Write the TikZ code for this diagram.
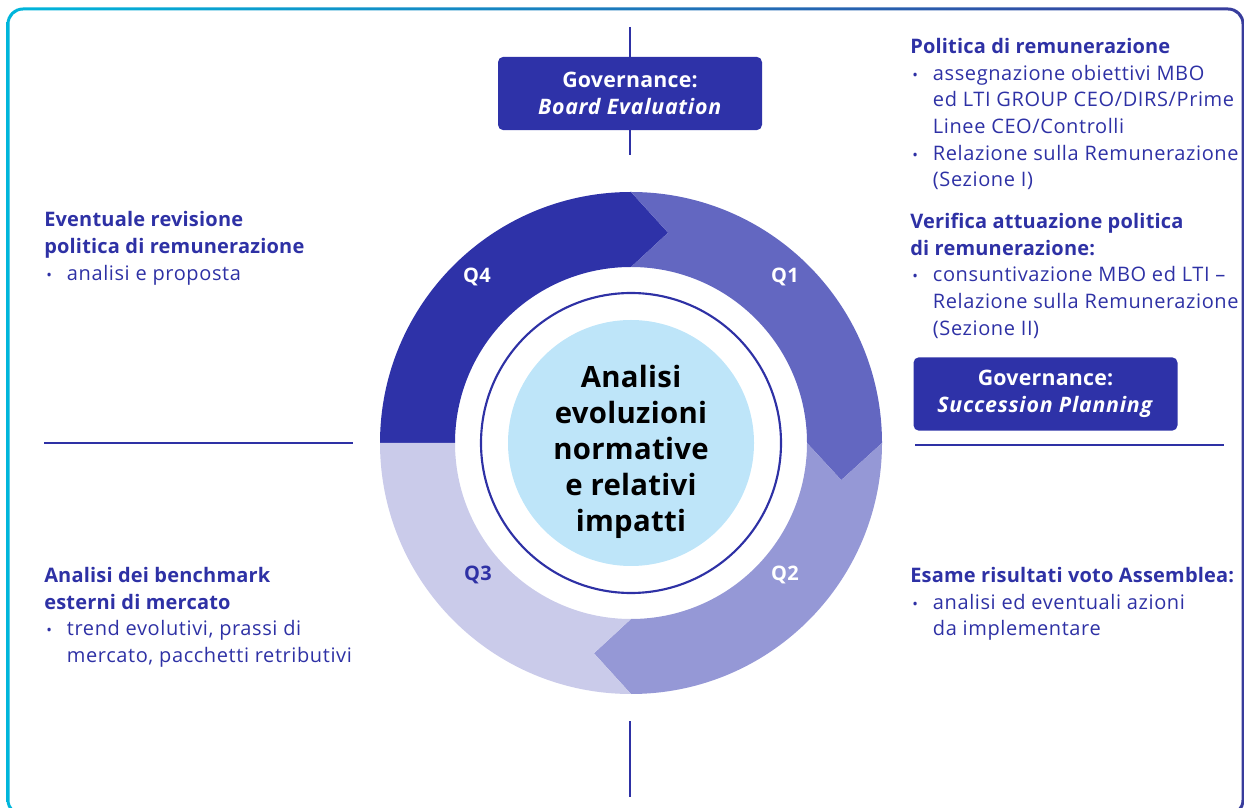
\documentclass[tikz,border=0pt]{standalone}
\usepackage{fontspec}
\setmainfont{Open Sans}[LetterSpace=3, BoldFeatures={LetterSpace=1}, BoldItalicFeatures={LetterSpace=3.5}]
\definecolor{qfour}{HTML}{2E32A8}
\definecolor{qone}{HTML}{6367C1}
\definecolor{qtwo}{HTML}{9598D6}
\definecolor{qthree}{HTML}{CACBEA}
\definecolor{core}{HTML}{BEE5F9}
\definecolor{ink}{HTML}{2E31A5}
\definecolor{framecyan}{HTML}{00B6DB}
\definecolor{frameblue}{HTML}{383C9C}
\newcommand{\blt}{\makebox[17pt][l]{\hspace{1.5pt}\scalebox{0.75}{\textbullet}}}
\newcommand{\ind}{\hspace*{17pt}}
\begin{document}
\begin{tikzpicture}[x=0.75pt, y=0.75pt,
  txt/.style={anchor=north west, inner sep=0, align=left, text=ink, font=\fontsize{15}{20}\selectfont},
  gov/.style={rectangle, rounded corners=4pt, fill=qfour, text=white, align=center, inner sep=0, minimum width=198pt, minimum height=55pt, font=\fontsize{16}{20}\selectfont\bfseries},
  qlab/.style={inner sep=0, font=\fontsize{15}{18}\selectfont\bfseries},
  rule/.style={draw=ink, line width=2pt}]
\useasboundingbox (0,0) rectangle (1245,807);
\shade[left color=framecyan, right color=frameblue, even odd rule]
  [rounded corners=12.4pt] (6.5,-9.5) rectangle (1244.5,799.5)
  [rounded corners=10.1pt] (9.5,-6.5) rectangle (1241.5,796.5);

\begin{scope}[shift={(631,364)}]
\fill[qfour] (180:251) arc[start angle=180, end angle=90, radius=251] -- (80:213.5) -- (90:176) arc[start angle=90, end angle=180, radius=176] -- cycle;
\fill[qone] (90:251) arc[start angle=90, end angle=0, radius=251] -- (-10:213.5) -- (0:176) arc[start angle=0, end angle=90, radius=176] -- (80:213.5) -- cycle;
\fill[qtwo] (0:251) arc[start angle=0, end angle=-90, radius=251] -- (-100:213.5) -- (-90:176) arc[start angle=-90, end angle=0, radius=176] -- (-10:213.5) -- cycle;
\fill[qthree] (-90:251) arc[start angle=-90, end angle=-180, radius=251] -- (180:176) arc[start angle=180, end angle=270, radius=176] -- (-100:213.5) -- cycle;
\node[qlab, text=white] (q4) at (-154,166){Q4};
\node[qlab, text=white] (q1) at (154,166){Q1};
\node[qlab, text=white] (q2) at (154,-132){Q2};
\node[qlab, text=ink] (q3) at (-153,-132){Q3};
\end{scope}

\node[circle, draw=ink, line width=1.6pt, minimum size=225pt, inner sep=0] (rim) at (631,364){};
\node[circle, fill=core, minimum size=184.5pt, inner sep=0] (core) at (631,364){};
\node[align=center, inner sep=0, font=\fontsize{22}{27}\selectfont\bfseries] (coretext) at (631,355){Analisi\\evoluzioni\\normative\\e relativi\\impatti};

\node[gov] (board) at (630,713.5){Governance:\\\textit{Board Evaluation}};
\coordinate (boardtop) at (630,780);
\coordinate (boardfoot) at (630,652);
\draw[rule](boardtop) -- (board.north);
\draw[rule](board.south) -- (boardfoot);

\node[gov] (succession) at (1045.5,413){Governance:\\\textit{Succession Planning}};

\coordinate (westa) at (44,364);
\coordinate (westb) at (353,364);
\draw[rule](westa) -- (westb);
\coordinate (easta) at (915,362);
\coordinate (eastb) at (1224,362);
\draw[rule](easta) -- (eastb);
\coordinate (southa) at (630,86);
\coordinate (southb) at (630,10);
\draw[rule](southa) -- (southb);

\node[txt] (politica) at (910,769){\textbf{Politica di remunerazione}\\\blt assegnazione obiettivi MBO\\\ind ed LTI GROUP CEO/DIRS/Prime\\\ind Linee CEO/Controlli\\\blt Relazione sulla Remunerazione\\\ind (Sezione I)};
\node[txt] (verifica) at (910,594){\textbf{Verifica attuazione politica}\\\textbf{di remunerazione:}\\\blt consuntivazione MBO ed LTI --\\\ind Relazione sulla Remunerazione\\\ind (Sezione II)};
\node[txt] (esame) at (910,240){\textbf{Esame risultati voto Assemblea:}\\\blt analisi ed eventuali azioni\\\ind da implementare};
\node[txt] (revisione) at (44,595.5){\textbf{Eventuale revisione}\\\textbf{politica di remunerazione}\\\blt analisi e proposta};
\node[txt] (benchmark) at (44,240){\textbf{Analisi dei benchmark}\\\textbf{esterni di mercato}\\\blt trend evolutivi, prassi di\\\ind mercato, pacchetti retributivi};

\end{tikzpicture}
\end{document}
